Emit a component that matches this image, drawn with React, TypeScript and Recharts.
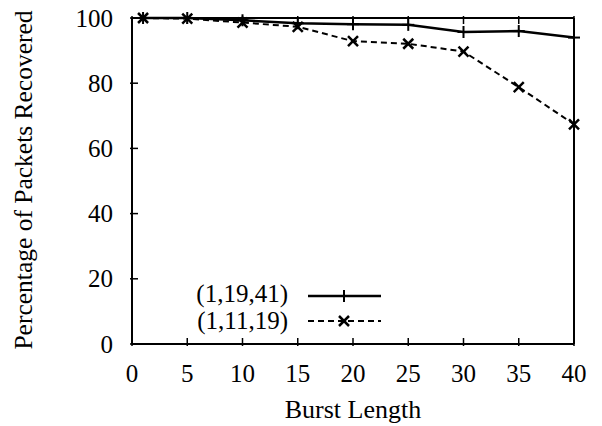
import React from 'react';
import { LineChart, Line, XAxis, YAxis } from 'recharts';

const burstLength = [1, 5, 10, 15, 20, 25, 30, 35, 40];
const code19_41 = [100, 100, 99.3, 98.4, 98.1, 97.9, 95.7, 96.0, 94.0];
const code11_19 = [100, 99.8, 98.6, 97.3, 92.9, 92.1, 89.7, 78.8, 67.4];
const xTicks = [0, 5, 10, 15, 20, 25, 30, 35, 40];
const yTicks = [0, 20, 40, 60, 80, 100];

const data = burstLength.map((b, i) => ({ b, a: code19_41[i], c: code11_19[i] }));

const FONT = "'Liberation Serif', 'Times New Roman', Times, serif";
const TICK = 8;
const txt = { fontFamily: FONT };

const PlusDot = (p: any) => {
  const { cx, cy } = p;
  if (cx == null || cy == null) return null;
  return (
    <g stroke="#000" strokeWidth={2}>
      <line x1={cx - 6} y1={cy} x2={cx + 6} y2={cy} />
      <line x1={cx} y1={cy - 6} x2={cx} y2={cy + 6} />
    </g>
  );
};

const CrossDot = (p: any) => {
  const { cx, cy } = p;
  if (cx == null || cy == null) return null;
  return (
    <g stroke="#000" strokeWidth={2.5}>
      <line x1={cx - 5} y1={cy - 5} x2={cx + 5} y2={cy + 5} />
      <line x1={cx - 5} y1={cy + 5} x2={cx + 5} y2={cy - 5} />
    </g>
  );
};

const BottomTick = (p: any) => (
  <g>
    <line x1={p.x} y1={p.y} x2={p.x} y2={p.y - TICK} stroke="#000" strokeWidth={1.5} />
    <text x={p.x} y={p.y + 36} textAnchor="middle" style={txt} fontSize={25} fill="#000">
      {p.payload.value}
    </text>
  </g>
);

const TopTick = (p: any) => (
  <line x1={p.x} y1={p.y} x2={p.x} y2={p.y + TICK} stroke="#000" strokeWidth={1.5} />
);

const LeftTick = (p: any) => (
  <g>
    <line x1={p.x} y1={p.y} x2={p.x + TICK} y2={p.y} stroke="#000" strokeWidth={1.5} />
    <text x={p.x - 17} y={p.y + 8.5} textAnchor="end" style={txt} fontSize={25} fill="#000">
      {p.payload.value}
    </text>
  </g>
);

const RightTick = (p: any) => (
  <line x1={p.x} y1={p.y} x2={p.x - TICK} y2={p.y} stroke="#000" strokeWidth={1.5} />
);

export default function App() {
  return (
    <div style={{ position: 'absolute', left: 0, top: 0, width: 602, height: 426, background: '#fff' }}>
      <LineChart width={602} height={426} data={data} margin={{ top: 17, right: 27, bottom: 81, left: 131 }}>
        <XAxis
          xAxisId="b"
          dataKey="b"
          type="number"
          domain={[0, 40]}
          ticks={xTicks}
          tickSize={0}
          tickLine={false}
          tick={<BottomTick />}
          axisLine={{ stroke: '#000', strokeWidth: 2 }}
          height={1}
        />
        <XAxis
          xAxisId="t"
          dataKey="b"
          type="number"
          orientation="top"
          domain={[0, 40]}
          ticks={xTicks}
          tickSize={0}
          tickLine={false}
          tick={<TopTick />}
          axisLine={{ stroke: '#000', strokeWidth: 2 }}
          height={1}
        />
        <YAxis
          yAxisId="l"
          type="number"
          domain={[0, 100]}
          ticks={yTicks}
          tickSize={0}
          tickLine={false}
          tick={<LeftTick />}
          axisLine={{ stroke: '#000', strokeWidth: 2 }}
          width={1}
        />
        <YAxis
          yAxisId="r"
          orientation="right"
          type="number"
          domain={[0, 100]}
          ticks={yTicks}
          tickSize={0}
          tickLine={false}
          tick={<RightTick />}
          axisLine={{ stroke: '#000', strokeWidth: 2 }}
          width={1}
        />
        <Line
          xAxisId="b"
          yAxisId="l"
          dataKey="a"
          stroke="#000"
          strokeWidth={2.5}
          dot={<PlusDot />}
          activeDot={false}
          isAnimationActive={false}
        />
        <Line
          xAxisId="b"
          yAxisId="l"
          dataKey="c"
          stroke="#000"
          strokeWidth={2}
          strokeDasharray="6 4"
          dot={<CrossDot />}
          activeDot={false}
          isAnimationActive={false}
        />
      </LineChart>
      <svg width={602} height={426} style={{ position: 'absolute', left: 0, top: 0, pointerEvents: 'none' }}>
        <text x={353} y={418} textAnchor="middle" style={txt} fontSize={26} fill="#000">Burst Length</text>
        <text
          x={0}
          y={0}
          transform="translate(32,180) rotate(-90)"
          textAnchor="middle"
          style={txt}
          fontSize={25.5}
          fill="#000"
        >
          Percentage of Packets Recovered
        </text>
        <text x={288} y={302} textAnchor="end" style={txt} fontSize={25} fill="#000">(1,19,41)</text>
        <line x1={308} y1={296} x2={381} y2={296} stroke="#000" strokeWidth={2.5} />
        <PlusDot cx={344} cy={296} />
        <text x={288} y={329} textAnchor="end" style={txt} fontSize={25} fill="#000">(1,11,19)</text>
        <line x1={308} y1={321} x2={381} y2={321} stroke="#000" strokeWidth={2} strokeDasharray="6 4" />
        <CrossDot cx={344} cy={321} />
      </svg>
    </div>
  );
}
